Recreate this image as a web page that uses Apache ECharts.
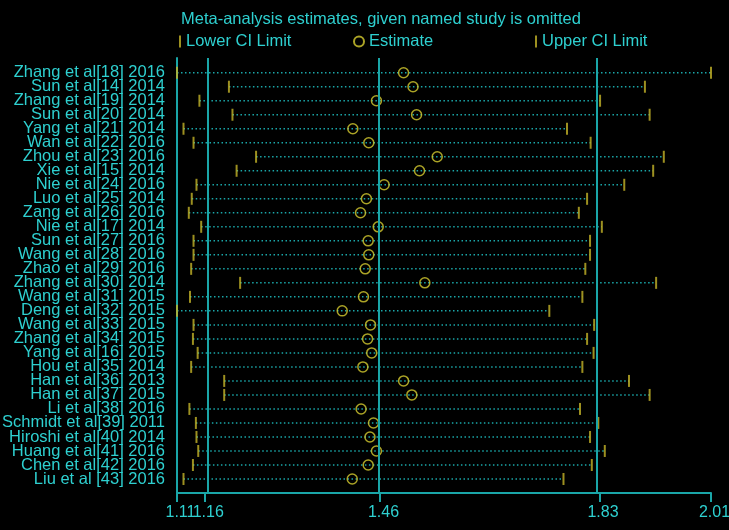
<!DOCTYPE html>
<html>
<head>
<meta charset="utf-8">
<title>Meta-analysis estimates, given named study is omitted</title>
<script src="https://cdn.jsdelivr.net/npm/echarts@6.0.0/dist/echarts.min.js"></script>
<style>
    html, body { margin: 0; padding: 0; background: #000; }
    #chart { width: 729px; height: 530px; }
</style>
</head>
<body>
<div id="chart"></div>
<script>
const studies = [
    'Zhang et al[18] 2016', 'Sun et al[14] 2014', 'Zhang et al[19] 2014', 'Sun et al[20] 2014',
    'Yang et al[21] 2014', 'Wan et al[22] 2016', 'Zhou et al[23] 2016', 'Xie et al[15] 2014',
    'Nie et al[24] 2016', 'Luo et al[25] 2014', 'Zang et al[26] 2016', 'Nie et al[17] 2014',
    'Sun et al[27] 2016', 'Wang et al[28] 2016', 'Zhao et al[29] 2016', 'Zhang et al[30] 2014',
    'Wang et al[31] 2015', 'Deng et al[32] 2015', 'Wang et al[33] 2015', 'Zhang et al[34] 2015',
    'Yang et al[16] 2015', 'Hou et al[35] 2014', 'Han et al[36] 2013', 'Han et al[37] 2015',
    'Li et al[38] 2016', 'Schmidt et al[39] 2011', 'Hiroshi et al[40] 2014', 'Huang et al[41] 2016',
    'Chen et al[42] 2016', 'Liu et al [43] 2016'
];
const lowerCI = [
    1.108, 1.196, 1.146, 1.202, 1.119, 1.136, 1.242, 1.209, 1.141, 1.133,
    1.128, 1.149, 1.136, 1.136, 1.132, 1.215, 1.130, 1.108, 1.136, 1.135,
    1.143, 1.132, 1.188, 1.188, 1.129, 1.140, 1.141, 1.144, 1.135, 1.119
];
const estimates = [
    1.492, 1.508, 1.446, 1.514, 1.406, 1.433, 1.549, 1.519, 1.459, 1.429,
    1.419, 1.449, 1.432, 1.433, 1.427, 1.528, 1.424, 1.388, 1.436, 1.431,
    1.438, 1.423, 1.492, 1.506, 1.420, 1.441, 1.435, 1.446, 1.432, 1.405
];
const upperCI = [
    2.013, 1.901, 1.825, 1.909, 1.769, 1.809, 1.933, 1.915, 1.866, 1.803,
    1.789, 1.828, 1.808, 1.808, 1.800, 1.920, 1.795, 1.739, 1.815, 1.803,
    1.814, 1.795, 1.874, 1.909, 1.791, 1.822, 1.808, 1.833, 1.811, 1.763
];
// overall lower CI, overall estimate, overall upper CI
const refLines = [1.155, 1.452, 1.824];
const xTicks = [1.108, 1.155, 1.452, 1.824, 2.013];
const xTickLabels = ['1.11', '1.16', '1.46', '1.83', '2.01'];

const cyan = '#2ed0d0';
const teal = '#1aa6a8';
const barYellow = '#c4b428';
const ringYellow = '#d6cc30';
const font = "'Liberation Sans', Arial, sans-serif";

const chart = echarts.init(document.getElementById('chart'));
const rows = studies.map((s, i) => i);

// labels sit closer than their boxes, so split them over two axes
// (otherwise echarts drops the neighbours of the first/last label)
function xAxisPart(vals, showLine) {
    return {
        type: 'value',
        position: 'bottom',
        min: xTicks[0], max: xTicks[xTicks.length - 1],
        splitLine: { show: false },
        axisLine: { show: showLine, onZero: false, lineStyle: { color: teal, width: 2 } },
        axisTick: { customValues: vals, length: 9, lineStyle: { color: teal, width: 2 } },
        axisLabel: {
            customValues: vals,
            margin: 12,
            padding: [0, 0, 0, 7],
            color: cyan, fontSize: 16, fontFamily: font,
            formatter: v => xTickLabels[xTicks.indexOf(v)]
        }
    };
}

function yAxisPart(vals, showLine) {
    return {
        type: 'value',
        position: 'left',
        inverse: true,
        min: -1.05, max: 30,
        splitLine: { show: false },
        axisLine: { show: showLine, onZero: false, lineStyle: { color: teal, width: 2 } },
        axisTick: { show: false },
        axisLabel: {
            customValues: vals,
            margin: 12,
            color: cyan, fontSize: 16.5, fontFamily: font,
            formatter: v => studies[v]
        }
    };
}

chart.setOption({
    backgroundColor: '#000',
    animation: false,
    textStyle: { fontFamily: font },
    title: {
        text: 'Meta-analysis estimates, given named study is omitted',
        left: 176, top: 6,
        textStyle: { color: cyan, fontSize: 16.5, fontWeight: 'normal', fontFamily: font }
    },
    legend: [
        { data: ['Lower CI Limit'], left: 174, top: 28, itemWidth: 2, itemHeight: 12,
          textStyle: { color: cyan, fontSize: 16.5, fontFamily: font } },
        { data: ['Estimate'], left: 348, top: 28, itemWidth: 10, itemHeight: 10,
          textStyle: { color: cyan, fontSize: 16.5, fontFamily: font } },
        { data: ['Upper CI Limit'], left: 530, top: 28, itemWidth: 2, itemHeight: 12,
          textStyle: { color: cyan, fontSize: 16.5, fontFamily: font } }
    ],
    grid: { left: 177, right: 18, top: 58, bottom: 37, outerBoundsMode: 'none' },
    xAxis: [
        xAxisPart(xTicks.filter((v, i) => i % 2 === 0), true),
        xAxisPart(xTicks.filter((v, i) => i % 2 === 1), false)
    ],
    yAxis: [
        yAxisPart(rows.filter(i => i % 2 === 0), true),
        yAxisPart(rows.filter(i => i % 2 === 1), false)
    ],
    series: [
        {
            name: 'CI',
            type: 'custom',
            data: rows.map(i => [lowerCI[i], upperCI[i], i]),
            encode: { x: [0, 1], y: 2 },
            renderItem: (params, api) => {
                const a = api.coord([api.value(0), api.value(2)]);
                const b = api.coord([api.value(1), api.value(2)]);
                return {
                    type: 'line',
                    shape: { x1: a[0], y1: a[1], x2: b[0], y2: b[1] },
                    style: { stroke: teal, lineWidth: 1.5, lineDash: [1.5, 2.5] }
                };
            },
            z: 1
        },
        {
            name: 'Lower CI Limit',
            type: 'scatter',
            symbol: 'rect',
            symbolSize: [2, 12],
            itemStyle: { color: barYellow },
            data: rows.map(i => [lowerCI[i], i]),
            markLine: {
                silent: true,
                symbol: 'none',
                label: { show: false },
                lineStyle: { color: teal, width: 2, type: 'solid' },
                data: refLines.map(v => ({ xAxis: v }))
            },
            z: 3
        },
        {
            name: 'Estimate',
            type: 'scatter',
            symbol: 'circle',
            symbolSize: 10,
            itemStyle: { color: 'rgba(0,0,0,0)', borderColor: ringYellow, borderWidth: 1.5 },
            data: rows.map(i => [estimates[i], i]),
            z: 4
        },
        {
            name: 'Upper CI Limit',
            type: 'scatter',
            symbol: 'rect',
            symbolSize: [2, 12],
            itemStyle: { color: barYellow },
            data: rows.map(i => [upperCI[i], i]),
            z: 3
        }
    ]
});
</script>
</body>
</html>
